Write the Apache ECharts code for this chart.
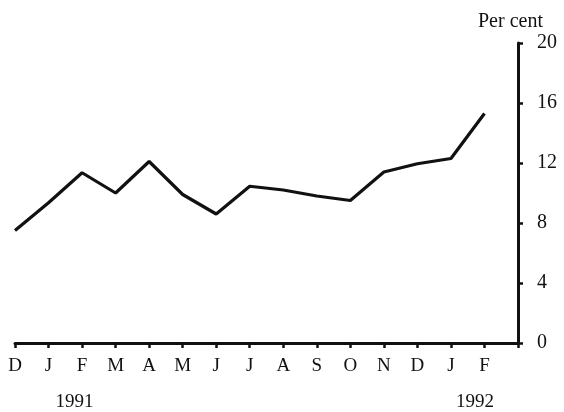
<!DOCTYPE html>
<html style="height: 100%">
<head>
    <meta charset="utf-8">
    <script type="text/javascript" src="https://cdn.jsdelivr.net/npm/echarts@6/dist/echarts.min.js"></script>
</head>
<body style="height: 100%; margin: 0; background: #fff">
<div id="container" style="width: 564px; height: 412px"></div>
<script type="text/javascript">
    // months Dec 1990 .. Feb 1992, last slot is the empty end of the axis
    var months = ['D', 'J', 'F', 'M', 'A', 'M', 'J', 'J', 'A', 'S', 'O', 'N', 'D', 'J', 'F', ''];
    var rate = [7.5, 9.35, 11.35, 10.0, 12.1, 9.9, 8.6, 10.45, 10.2, 9.8, 9.5, 11.4, 11.95, 12.3, 15.3];
    var yTicks = [0, 4, 8, 12, 16, 20];
    var years = ['1991', '1992'];

    var dom = document.getElementById('container');
    var myChart = echarts.init(dom);
    var serif = '"Liberation Serif", "DejaVu Serif", serif';
    var ink = '#111';

    var option = {
        animation: false,
        backgroundColor: '#fff',
        grid: {left: 15, right: 46, top: 43, bottom: 69},
        xAxis: {
            type: 'category',
            data: months,
            boundaryGap: false,
            axisLine: {lineStyle: {color: ink, width: 3}},
            axisTick: {show: true, length: 5, lineStyle: {color: ink, width: 2.5}, interval: 0},
            axisLabel: {interval: 0, margin: 14, color: ink, fontFamily: serif, fontSize: 19},
            splitLine: {show: false}
        },
        yAxis: {
            type: 'value',
            position: 'right',
            min: yTicks[0],
            max: yTicks[yTicks.length - 1],
            interval: 4,
            axisLine: {show: true, lineStyle: {color: ink, width: 3}},
            axisTick: {show: true, length: 5, lineStyle: {color: ink, width: 2.5}},
            axisLabel: {margin: 19, color: ink, fontFamily: serif, fontSize: 20},
            splitLine: {show: false}
        },
        series: [{
            type: 'line',
            data: rate,
            showSymbol: false,
            lineStyle: {color: ink, width: 3.2},
            itemStyle: {color: ink}
        }]
    };
    myChart.setOption(option);

    // year labels under J of each year, nudged right
    var y1 = myChart.convertToPixel({xAxisIndex: 0}, 1);
    var y2 = myChart.convertToPixel({xAxisIndex: 0}, 13);
    myChart.setOption({
        graphic: [
            {type: 'text', left: 478, top: 12,
             style: {text: 'Per cent', fill: ink, font: '20px ' + serif}},
            {type: 'text', x: y1 + 26, y: 402,
             style: {text: years[0], fill: ink, font: '19px ' + serif, align: 'center', verticalAlign: 'middle'}},
            {type: 'text', x: y2 + 24, y: 402,
             style: {text: years[1], fill: ink, font: '19px ' + serif, align: 'center', verticalAlign: 'middle'}}
        ]
    });
</script>
</body>
</html>
